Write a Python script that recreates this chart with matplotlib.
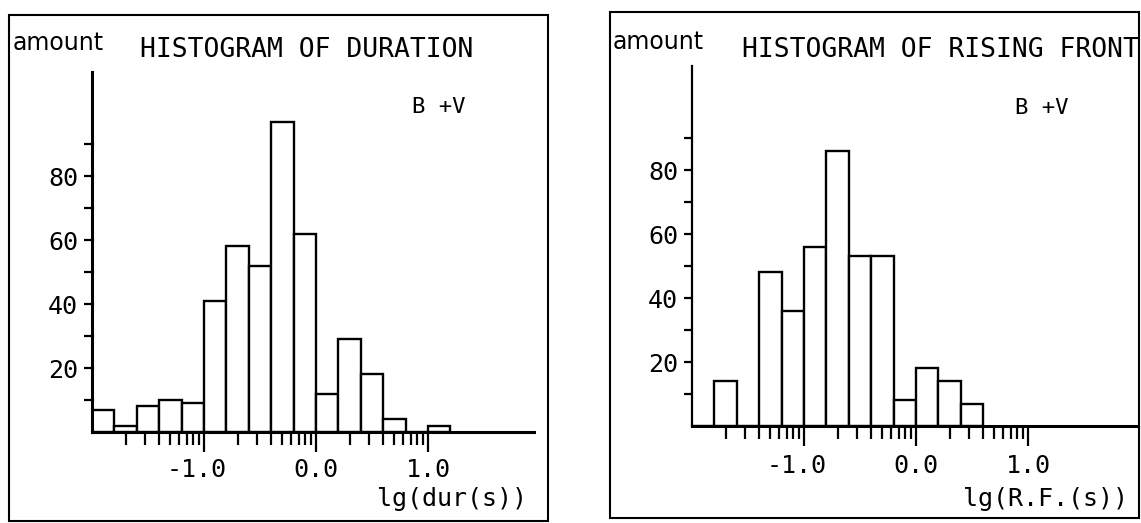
"""
Histogram panels for duration and rising front (B+V)
Rebuilds the two scanned histograms as out.png
"""

import numpy as np
import matplotlib
matplotlib.use('Agg')
import matplotlib.pyplot as plt
import matplotlib.patches as mpatches
from matplotlib.transforms import offset_copy

# --- data -------------------------------------------------------------------
# left edges of the 0.2-wide bins, lg(seconds)
duration_bins = [-2.0, -1.8, -1.6, -1.4, -1.2, -1.0, -0.8, -0.6,
                 -0.4, -0.2, 0.0, 0.2, 0.4, 0.6, 0.8, 1.0]
duration_counts = [7, 2, 8, 10, 9, 41, 58, 52, 97, 62, 12, 29, 18, 4, 0, 2]

rising_bins = [-2.0, -1.8, -1.6, -1.4, -1.2, -1.0, -0.8, -0.6,
               -0.4, -0.2, 0.0, 0.2, 0.4]
rising_counts = [0, 14, 0, 48, 36, 56, 86, 53, 53, 8, 18, 14, 7]

ytick_major = [20, 40, 60, 80]
ytick_minor = [10, 30, 50, 70, 90]
xtick_major = [-1.0, 0.0, 1.0]
xtick_labels = ['-1.0', '0.0', '1.0']

W, H = 1141, 523
PX_PER_UNIT = 112.0   # x: pixels per 1.0 of lg
PX_PER_COUNT = 3.2    # y: pixels per count
MONO = 'DejaVu Sans Mono'
TICK_FS = 18


def fpos(x, y):
    """pixel (from top-left) -> figure fraction"""
    return x / W, 1 - y / H


def draw_panel(fig, bins, counts, title, xlabel, lay):
    x0, y0 = lay['origin']
    xmax = lay['xmax']
    ymax = 112.5

    ax = fig.add_axes([x0 / W, 1 - y0 / H,
                       (xmax + 2.0) * PX_PER_UNIT / W, ymax * PX_PER_COUNT / H])
    ax.bar(bins, counts, width=0.2, align='edge', facecolor='white',
           edgecolor='black', linewidth=1.7)
    ax.set_xlim(-2.0, xmax)
    ax.set_ylim(0, ymax)
    ax.set_facecolor('none')

    for side in ['top', 'right']:
        ax.spines[side].set_visible(False)
    ax.spines['left'].set_linewidth(lay['ylw'])
    ax.spines['bottom'].set_linewidth(2.2)

    # y axis: labelled every 20, small ticks in between
    ax.set_yticks(ytick_major, labels=[str(v) for v in ytick_major],
                  fontfamily=MONO, fontsize=TICK_FS)
    ax.set_yticks(ytick_minor, minor=True)
    ax.tick_params(axis='y', which='both', length=6, width=1.6, pad=4)

    # x axis: log-style ticks inside each decade
    minor = [d + np.log10(k) for d in (-2, -1, 0) for k in range(2, 10)]
    ax.set_xticks(xtick_major, labels=[])
    ax.set_xticks(minor, minor=True)
    ax.tick_params(axis='x', which='major', length=14.5, width=1.6)
    ax.tick_params(axis='x', which='minor', length=9.5, width=1.6)

    # tick labels: "1.0" part centred on the tick, minus hangs to the left
    char_w = 0.602 * TICK_FS
    trans = offset_copy(ax.get_xaxis_transform(), fig=fig, x=1.5 * char_w,
                        y=-lay['label_drop'] * 0.72, units='points')
    for v, s in zip(xtick_major, xtick_labels):
        ax.text(v, 0, s, transform=trans, ha='right', va='baseline',
                fontsize=TICK_FS, family=MONO)

    # frame and texts
    fx0, fy0, fx1, fy1 = lay['frame']
    fig.add_artist(mpatches.Rectangle((fx0 / W, 1 - fy1 / H), (fx1 - fx0) / W,
                                      (fy1 - fy0) / H, transform=fig.transFigure,
                                      fill=False, edgecolor='black', linewidth=1.5))
    fig.text(*fpos(*lay['amount']), 'amount', fontsize=17,
             family='DejaVu Sans', va='baseline', ha='left')
    fig.text(*fpos(*lay['title']), title, fontsize=19, family=MONO,
             va='baseline', ha='left')
    fig.text(*fpos(*lay['bv']), 'B +V', fontsize=16, family=MONO,
             va='baseline', ha='left')
    fig.text(*fpos(*lay['xlabel']), xlabel, fontsize=18, family=MONO,
             va='baseline', ha='right')
    return ax


fig = plt.figure(figsize=(W / 100, H / 100), dpi=100)
fig.patch.set_facecolor('white')

left_layout = {
    'origin': (92, 432), 'xmax': 1.95, 'ylw': 2.2, 'label_drop': 45,
    'frame': (9, 15, 548, 521), 'amount': (13, 50), 'title': (140, 57),
    'bv': (412, 113), 'xlabel': (527, 506),
}
right_layout = {
    'origin': (692, 426), 'xmax': 1.98, 'ylw': 1.6, 'label_drop': 47,
    'frame': (610, 12, 1139, 518), 'amount': (613, 49), 'title': (742, 57),
    'bv': (1015, 114), 'xlabel': (1128, 506),
}

draw_panel(fig, duration_bins, duration_counts, 'HISTOGRAM OF DURATION',
           'lg(dur(s))', left_layout)
draw_panel(fig, rising_bins, rising_counts, 'HISTOGRAM OF RISING FRONT',
           'lg(R.F.(s))', right_layout)

fig.savefig('out.png', dpi=100, facecolor='white')
plt.close(fig)
